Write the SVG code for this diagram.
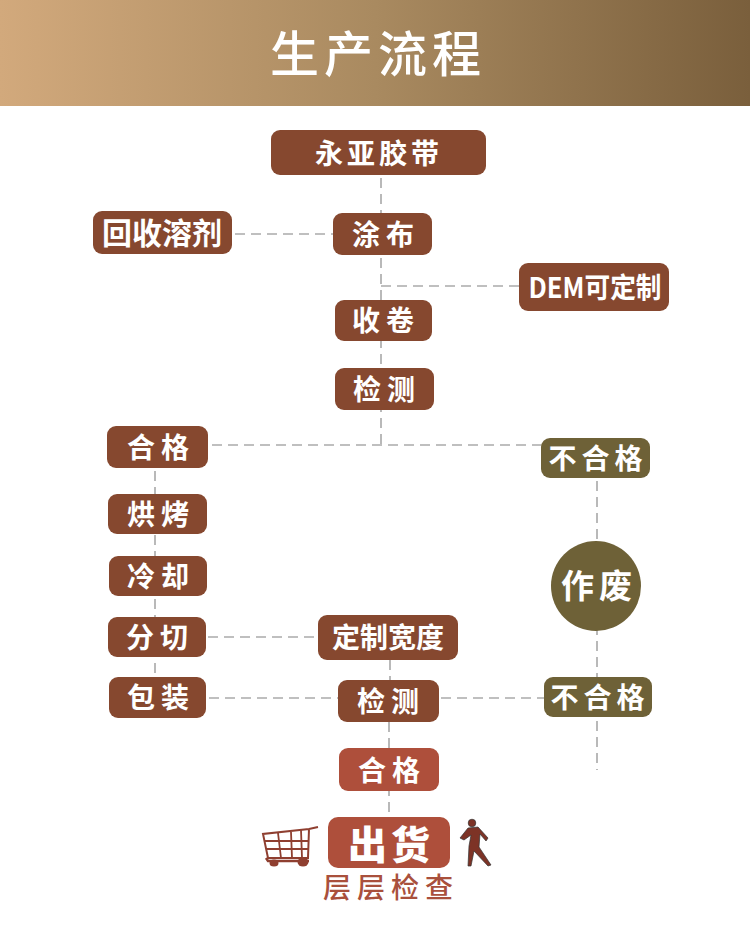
<svg xmlns="http://www.w3.org/2000/svg" width="750" height="927" viewBox="0 0 750 927">
<style>
text{font-family:"Noto Sans CJK SC","Noto Sans",sans-serif;font-weight:700;fill:#fff;text-anchor:middle}
.b{fill:#86482f}.o{fill:#6e6137}.r{fill:#ae4f3b}
.c{fill:none;stroke:#808080;stroke-width:1.1;stroke-dasharray:10 6}
.t{font-size:28px;letter-spacing:4px}
.n{font-size:28px}
</style>
<defs><linearGradient id="hd" x1="0" x2="1" y1="0" y2="0"><stop offset="0" stop-color="#d2a97c"/><stop offset="0.5" stop-color="#a98a60"/><stop offset="1" stop-color="#7a5f3c"/></linearGradient></defs>
<rect width="750" height="927" fill="#fff"/>
<rect id="header" width="750" height="106" fill="url(#hd)"/>
<text x="378" y="72" style="font-size:49px;letter-spacing:5px;font-weight:500">生产流程</text>
<g id="connectors">
<path class="c" d="M381 178V450"/>
<path class="c" d="M235 234H333"/>
<path class="c" d="M381 286H519"/>
<path class="c" d="M212 445H541"/>
<path class="c" d="M155 471V677"/>
<path class="c" d="M208 637H318"/>
<path class="c" d="M209 698H338"/>
<path class="c" d="M441 698H544"/>
<path class="c" d="M390 660V680"/>
<path class="c" d="M389 722V817"/>
<path class="c" d="M597 481V770"/>
</g>
<g id="n1"><rect class="b" x="271" y="130" width="215" height="45" rx="9"/><text class="t" x="379" y="164">永亚胶带</text></g>
<g id="n2"><rect class="b" x="93" y="211" width="139" height="43" rx="9"/><text class="n" x="162" y="244" style="font-size:30px">回收溶剂</text></g>
<g id="n3"><rect class="b" x="333" y="213" width="99" height="42" rx="9"/><text class="t" x="386" y="245" style="letter-spacing:6px">涂布</text></g>
<g id="n4"><rect class="b" x="519" y="263" width="150" height="48" rx="9"/><text class="n" x="595" y="298" textLength="133" lengthAdjust="spacingAndGlyphs">DEM可定制</text></g>
<g id="n5"><rect class="b" x="335" y="300" width="97" height="41" rx="9"/><text class="t" x="386" y="331" style="letter-spacing:6px">收卷</text></g>
<g id="n6"><rect class="b" x="335" y="368" width="99" height="42" rx="9"/><text class="t" x="387" y="400" style="letter-spacing:6px">检测</text></g>
<g id="n7"><rect class="b" x="107" y="426" width="101" height="42" rx="9"/><text class="t" x="161" y="458" style="letter-spacing:6px">合格</text></g>
<g id="n8"><rect class="o" x="541" y="438" width="109" height="40" rx="9"/><text class="t" x="598" y="469" style="letter-spacing:5px">不合格</text></g>
<g id="n9"><rect class="b" x="108" y="494" width="99" height="40" rx="9"/><text class="t" x="161" y="525" style="letter-spacing:6px">烘烤</text></g>
<g id="n10"><rect class="b" x="109" y="556" width="98" height="40" rx="9"/><text class="t" x="161" y="587" style="letter-spacing:6px">冷却</text></g>
<g id="n11"><rect class="b" x="108" y="617" width="98" height="40" rx="9"/><text class="t" x="160" y="648" style="letter-spacing:6px">分切</text></g>
<g id="n12"><rect class="b" x="109" y="677" width="97" height="41" rx="9"/><text class="t" x="161" y="708" style="letter-spacing:6px">包装</text></g>
<g id="n13"><rect class="b" x="318" y="615" width="140" height="45" rx="9"/><text class="n" x="388" y="648">定制宽度</text></g>
<g id="n14"><rect class="b" x="338" y="680" width="101" height="42" rx="9"/><text class="t" x="391" y="712" style="letter-spacing:6px">检测</text></g>
<g id="n15"><rect class="o" x="544" y="677" width="108" height="40" rx="9"/><text class="t" x="600" y="708" style="letter-spacing:5px">不合格</text></g>
<g id="n16"><circle class="o" cx="596" cy="586" r="45"/><text class="t" x="599" y="598" style="font-size:33px;letter-spacing:5px">作废</text></g>
<g id="n17"><rect class="r" x="339" y="748" width="100" height="43" rx="9"/><text class="t" x="392" y="781" style="letter-spacing:6px">合格</text></g>
<g id="n18"><rect class="r" x="328" y="817" width="122" height="51" rx="10"/><text x="391" y="859" style="font-size:39px;letter-spacing:4px;font-weight:900">出货</text></g>
<g id="cart" fill="none" stroke="#8f3f30" stroke-width="1.8">
<path d="M318 827L309 829L263 834L268 858H308L309 829" stroke-width="2"/>
<path d="M265 841H309M267 849H308M278 833L281 858M291 832L292 858M301 830L302 858"/>
<path d="M266 858L268 861H309" stroke-width="2.500"/>
<ellipse cx="274" cy="863" rx="4.500" ry="3.500" fill="#8f3f30" stroke="none"/>
<ellipse cx="303" cy="862" rx="5.500" ry="4.500" fill="#8f3f30" stroke="none"/>
</g>
<g id="walker" fill="#7d3326" stroke="#333" stroke-width="0.700">
<circle cx="472" cy="823" r="3.800"/>
<path d="M468 828L478 827L488 838L486 841L480 834L479 847L491 865L488 866L474 851L471 866H468L469 846L471 835L464 840L460 838Z"/>
</g>
<text x="391" y="898" style="font-size:28px;letter-spacing:6px;font-weight:500;fill:#a9503c">层层检查</text>
</svg>
